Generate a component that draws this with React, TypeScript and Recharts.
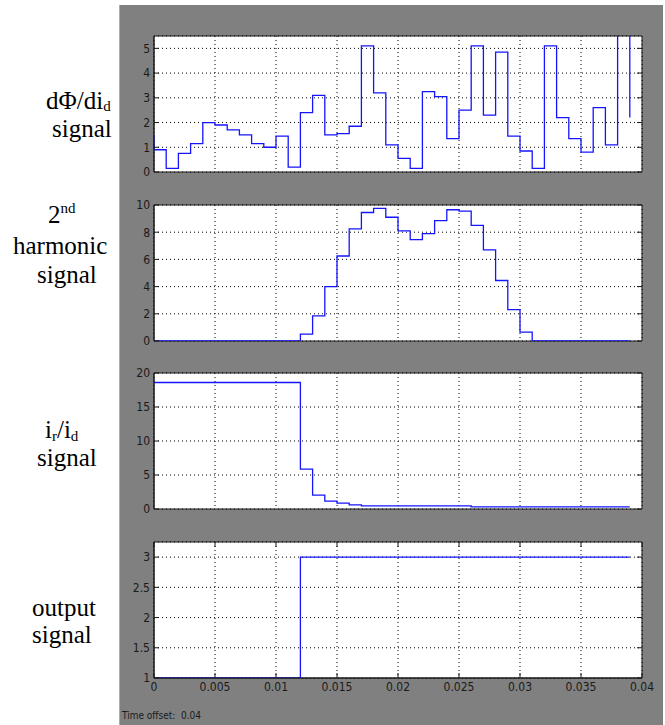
import React from 'react';
import { LineChart, Line, XAxis, YAxis, CartesianGrid, ReferenceArea } from 'recharts';

// sample instants of the scope (one step per millisecond)
const TIME = [
  0, 0.001, 0.002, 0.003, 0.004, 0.005, 0.006, 0.007, 0.008, 0.009,
  0.01, 0.011, 0.012, 0.013, 0.014, 0.015, 0.016, 0.017, 0.018, 0.019,
  0.02, 0.021, 0.022, 0.023, 0.024, 0.025, 0.026, 0.027, 0.028, 0.029,
  0.03, 0.031, 0.032, 0.033, 0.034, 0.035, 0.036, 0.037, 0.038, 0.039,
];

const DPHI_START = 1.5;
const DPHI = [
  0.9, 0.15, 0.75, 1.15, 2.0, 1.9, 1.7, 1.5, 1.15, 1.0,
  1.45, 0.2, 2.4, 3.1, 1.5, 1.55, 1.85, 5.1, 3.2, 1.1,
  0.55, 0.15, 3.25, 3.05, 1.35, 2.5, 5.1, 2.3, 4.85, 1.45,
  0.85, 0.15, 5.1, 2.2, 1.35, 0.8, 2.6, 1.1, 6.5, 2.2,
];
const HARMONIC = [
  0, 0, 0, 0, 0, 0, 0, 0, 0, 0,
  0, 0, 0.5, 1.85, 4.0, 6.25, 8.25, 9.45, 9.75, 9.1,
  8.1, 7.45, 7.9, 8.85, 9.65, 9.55, 8.5, 6.7, 4.45, 2.3,
  0.65, 0, 0, 0, 0, 0, 0, 0, 0, 0,
];
const RATIO = [
  18.6, 18.6, 18.6, 18.6, 18.6, 18.6, 18.6, 18.6, 18.6, 18.6,
  18.6, 18.6, 5.85, 2.05, 1.15, 0.85, 0.6, 0.45, 0.45, 0.45,
  0.45, 0.45, 0.45, 0.45, 0.45, 0.45, 0.3, 0.3, 0.3, 0.3,
  0.3, 0.3, 0.3, 0.3, 0.3, 0.3, 0.3, 0.3, 0.3, 0.3,
];
const OUTPUT = [
  1, 1, 1, 1, 1, 1, 1, 1, 1, 1,
  1, 1, 3, 3, 3, 3, 3, 3, 3, 3,
  3, 3, 3, 3, 3, 3, 3, 3, 3, 3,
  3, 3, 3, 3, 3, 3, 3, 3, 3, 3,
];

const X_TICKS = [0, 0.005, 0.01, 0.015, 0.02, 0.025, 0.03, 0.035, 0.04];
const DPHI_TICKS = [0, 1, 2, 3, 4, 5];
const HARMONIC_TICKS = [0, 2, 4, 6, 8, 10];
const RATIO_TICKS = [0, 5, 10, 15, 20];
const OUTPUT_TICKS = [1, 1.5, 2, 2.5, 3];

const PANEL_LEFT = 120;
const Y_AXIS_W = 34;
const PLOT_W = 488;
const PLOT_H = 136;
const RIGHT_M = 665 - PANEL_LEFT - Y_AXIS_W - PLOT_W;
const TOP_M = 8;
const AXIS = '#1a1a1a';
const LINE = '#1414ff';
const TICK_FONT = "'Liberation Sans Narrow', 'Arial Narrow', 'DejaVu Sans Condensed', sans-serif";

const rows = (vals: number[]) => TIME.map((t, i) => ({ t, v: vals[i] }));

function YTick(props: any) {
  const { x, y, payload } = props;
  const left = x + 4;
  return (
    <g>
      <line x1={left} x2={left + 5} y1={y} y2={y} stroke={AXIS} />
      <line x1={left + PLOT_W - 5} x2={left + PLOT_W} y1={y} y2={y} stroke={AXIS} />
      <text x={x} y={y} dy="0.36em" textAnchor="end" fontSize={12} fontFamily={TICK_FONT} fill={AXIS}>
        {payload.value}
      </text>
    </g>
  );
}

function XTick(props: any) {
  const { x, y, payload, showLabel } = props;
  const bottom = y - 4;
  return (
    <g>
      <line x1={x} x2={x} y1={bottom} y2={bottom - 5} stroke={AXIS} />
      <line x1={x} x2={x} y1={bottom - PLOT_H} y2={bottom - PLOT_H + 5} stroke={AXIS} />
      {showLabel && (
        <text x={x} y={y} dy="0.71em" textAnchor="middle" fontSize={12} fontFamily={TICK_FONT} fill={AXIS}>
          {payload.value}
        </text>
      )}
    </g>
  );
}

interface PanelProps {
  data: { t: number; v: number }[];
  domain: [number, number];
  ticks: number[];
  top: number;
  showX?: boolean;
}

function ScopePanel({ data, domain, ticks, top, showX = false }: PanelProps) {
  const xh = showX ? 24 : 0;
  const mb = showX ? 2 : 10;
  return (
    <div style={{ position: 'absolute', left: PANEL_LEFT, top: top - TOP_M }}>
      <LineChart
        width={665 - PANEL_LEFT}
        height={TOP_M + PLOT_H + xh + mb}
        data={data}
        margin={{ top: TOP_M, right: RIGHT_M, left: 0, bottom: mb }}
      >
        <CartesianGrid stroke="#000" strokeDasharray="1 3" fill="#fff" fillOpacity={1} />
        <XAxis
          dataKey="t"
          type="number"
          domain={[0, 0.04]}
          ticks={X_TICKS}
          height={xh}
          tickSize={0}
          tickMargin={4}
          tickLine={false}
          axisLine={{ stroke: AXIS }}
          tick={<XTick showLabel={showX} />}
          interval={0}
        />
        <YAxis
          type="number"
          domain={domain}
          ticks={ticks}
          allowDataOverflow
          width={Y_AXIS_W}
          tickSize={0}
          tickMargin={4}
          tickLine={false}
          axisLine={{ stroke: AXIS }}
          tick={<YTick />}
          interval={0}
        />
        <Line
          type="stepAfter"
          dataKey="v"
          stroke={LINE}
          strokeWidth={1.3}
          dot={false}
          activeDot={false}
          isAnimationActive={false}
        />
        <ReferenceArea x1={0} x2={0.04} y1={domain[0]} y2={domain[1]} fill="none" stroke={AXIS} strokeWidth={1} />
      </LineChart>
    </div>
  );
}

const SERIF = "'Liberation Serif', 'Times New Roman', serif";

function SideLabels() {
  return (
    <svg width={120} height={725} style={{ position: 'absolute', left: 0, top: 0 }} fontFamily={SERIF} fontSize={25} fill="#000">
      <text x={46} y={109}>
        dΦ/di<tspan fontSize={15} dy={2}>d</tspan>
      </text>
      <text x={52} y={137}>signal</text>

      <text x={48} y={223}>
        2<tspan fontSize={15} dy={-10}>nd</tspan>
      </text>
      <text x={13} y={254}>harmonic</text>
      <text x={37} y={283}>signal</text>

      <text x={45} y={438}>
        i<tspan fontSize={15} dy={3}>r</tspan>
        <tspan dy={-3}>/i</tspan>
        <tspan fontSize={15} dy={3}>d</tspan>
      </text>
      <text x={37} y={466}>signal</text>

      <text x={32} y={616}>output</text>
      <text x={32} y={643}>signal</text>
    </svg>
  );
}

export default function App() {
  return (
    <div style={{ position: 'absolute', left: 0, top: 0, width: 665, height: 725, background: '#fff', overflow: 'hidden' }}>
      <div
        style={{
          position: 'absolute',
          left: PANEL_LEFT - 1,
          top: 5,
          width: 665 - PANEL_LEFT - 1,
          height: 720,
          background: '#808080',
          borderLeft: '1px solid #bba987',
          boxSizing: 'border-box',
        }}
      />
      <SideLabels />
      <ScopePanel data={[{ t: 0, v: DPHI_START }, ...rows(DPHI)]} domain={[0, 5.5]} ticks={DPHI_TICKS} top={36} />
      <ScopePanel data={rows(HARMONIC)} domain={[0, 10]} ticks={HARMONIC_TICKS} top={205} />
      <ScopePanel data={rows(RATIO)} domain={[0, 20]} ticks={RATIO_TICKS} top={373} />
      <ScopePanel data={rows(OUTPUT)} domain={[1, 3.25]} ticks={OUTPUT_TICKS} top={542} showX />
      <div
        style={{
          position: 'absolute',
          left: 122,
          top: 710,
          fontFamily: TICK_FONT,
          fontSize: 10,
          color: AXIS,
          whiteSpace: 'pre',
        }}
      >
        {'Time offset:  0.04'}
      </div>
    </div>
  );
}
